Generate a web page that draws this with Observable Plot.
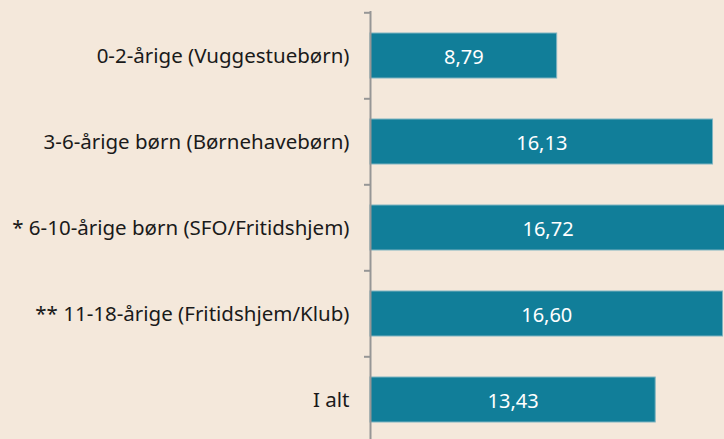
<!DOCTYPE html>
<html>
<head>
<meta charset="utf-8">
<script src="https://cdn.jsdelivr.net/npm/d3@7"></script>
<script src="https://cdn.jsdelivr.net/npm/@observablehq/plot@0.6"></script>
<style>
  html, body { margin: 0; padding: 0; background: #f4e8db; overflow: hidden; }
  #chart { width: 724px; height: 439px; overflow: hidden; }
  #chart svg { overflow: hidden; }
</style>
</head>
<body>
<div id="chart"></div>
<script>
const categories = [
  "0-2-årige (Vuggestuebørn)",
  "3-6-årige børn (Børnehavebørn)",
  "* 6-10-årige børn (SFO/Fritidshjem)",
  "** 11-18-årige (Fritidshjem/Klub)",
  "I alt"
];
const values = [8.79, 16.13, 16.72, 16.60, 13.43];

const data = categories.map((c, i) => ({category: c, value: values[i]}));

const W = 724, H = 439;
const yTop = 11.5, yBottom = 443.5;
const step = (yBottom - yTop) / categories.length;
const fmt = v => v.toFixed(2).replace(".", ",");

const chart = Plot.plot({
  width: W,
  height: H,
  marginLeft: 370,
  marginRight: 0,
  marginTop: 11,
  marginBottom: 0,
  style: {background: "#f4e8db", fontFamily: "'Noto Sans', sans-serif"},
  x: {domain: [0, 16.67], range: [370, 724], axis: null},
  y: {domain: categories, range: [yTop, yBottom], paddingInner: 0.48, paddingOuter: 0.24, axis: null},
  marks: [
    Plot.barX(data, {x: "value", y: "category", fill: "#117e99", stroke: "#7fb3c1", strokeWidth: 1}),
    Plot.ruleY(data, {y: "category", dy: -step / 2, x1: -6 / 21.24, x2: 0, stroke: "#969696", strokeWidth: 2}),
    Plot.ruleX([0], {stroke: "#969696", strokeWidth: 2}),
    Plot.axisY({tickSize: 0, tickPadding: 21, fontSize: 20.5, fill: "#1a1a1a", label: null}),
    Plot.text(data, {x: d => d.value / 2, y: "category", text: d => fmt(d.value), fill: "white", fontSize: 20, dy: 2})
  ]
});
document.getElementById("chart").appendChild(chart);
</script>
</body>
</html>
